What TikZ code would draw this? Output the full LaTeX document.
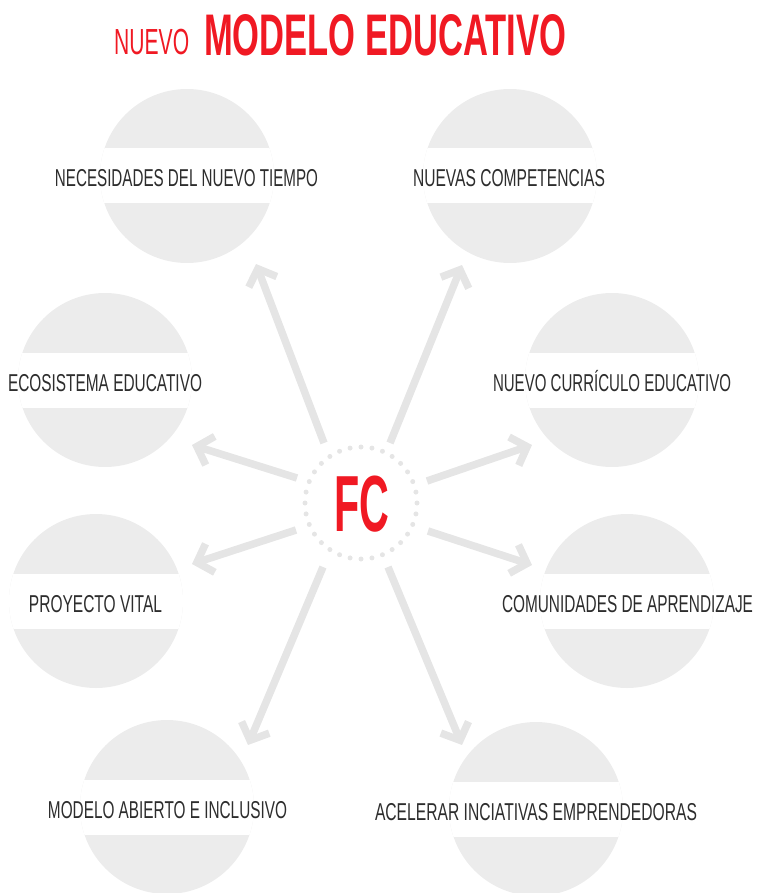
\documentclass[tikz,border=0pt]{standalone}
\usepackage{fontspec}
\setmainfont{Liberation Sans}
\usetikzlibrary{arrows.meta,calc}
\definecolor{fcred}{RGB}{240,25,35}
\definecolor{discgray}{RGB}{236,236,236}
\definecolor{arrowgray}{RGB}{229,229,229}
\definecolor{labelgray}{RGB}{45,45,45}
\newcommand{\lbltext}[2]{\resizebox{#1pt}{\height}{\fontsize{24.4}{28}\selectfont #2}}
\begin{document}
\begin{tikzpicture}[x=1pt,y=-1pt,
  disc/.style={circle,fill=discgray,minimum size=174pt,inner sep=0pt,
    path picture={\fill[white] ([xshift=-6pt,yshift=27.5pt]path picture bounding box.west) rectangle ([xshift=6pt,yshift=-27.5pt]path picture bounding box.east);}},
  lbl/.style={inner sep=0pt,anchor=base,text=labelgray},
  ray/.style={draw=arrowgray,line width=7.5pt,-{Straight Barb[length=14pt,width=30pt]}},
  dotc/.style={fill=arrowgray}]
\useasboundingbox (0,0) rectangle (756,893);
% title
\node[inner sep=0pt,anchor=base west,text=fcred] (t0) at (114,55) {\resizebox{75pt}{\height}{\fontsize{36.3}{40}\selectfont NUEVO}};
\node[inner sep=0pt,anchor=base west,text=fcred] (t00) at (204,56) {\resizebox{362pt}{\height}{\fontsize{58.7}{62}\selectfont\bfseries MODELO EDUCATIVO}};
% discs
\node[disc] (n1) at (187,176) {};
\node[disc] (n2) at (510,176) {};
\node[disc] (n3) at (105,380) {};
\node[disc] (n4) at (612,380) {};
\node[disc] (n5) at (96,601) {};
\node[disc] (n6) at (627,601) {};
\node[disc] (n7) at (167,807) {};
\node[disc] (n8) at (536,809) {};
% arrow end points
\coordinate (a1s) at (324,443); \coordinate (a1e) at (256,264);
\coordinate (a2s) at (390,443); \coordinate (a2e) at (462,265);
\coordinate (a3s) at (297,478); \coordinate (a3e) at (192,445);
\coordinate (a4s) at (427,481); \coordinate (a4e) at (532,445);
\coordinate (a5s) at (296,530); \coordinate (a5e) at (192,564);
\coordinate (a6s) at (428,531); \coordinate (a6e) at (532,565);
\coordinate (a7s) at (323,567); \coordinate (a7e) at (248,745);
\coordinate (a8s) at (388,567); \coordinate (a8e) at (462,745);
\foreach \i in {1,...,8} {\draw[ray] (a\i s) -- (a\i e);}
% labels
\node[lbl] (l1) at (186.5,187) {\lbltext{263}{NECESIDADES DEL NUEVO TIEMPO}};
\node[lbl] (l2) at (509,187) {\lbltext{192}{NUEVAS COMPETENCIAS}};
\node[lbl] (l3) at (105,391) {\lbltext{194}{ECOSISTEMA EDUCATIVO}};
\node[lbl] (l4) at (612,391) {\lbltext{238}{NUEVO CURRÍCULO EDUCATIVO}};
\node[lbl] (l5) at (95.5,612) {\lbltext{133}{PROYECTO VITAL}};
\node[lbl] (l6) at (627.5,612) {\lbltext{251}{COMUNIDADES DE APRENDIZAJE}};
\node[lbl] (l7) at (167.5,818) {\lbltext{239}{MODELO ABIERTO E INCLUSIVO}};
\node[lbl] (l8) at (536,820) {\lbltext{322}{ACELERAR INCIATIVAS EMPRENDEDORAS}};
% centre
\coordinate (fc) at (361,503);
\foreach \a in {0,11.25,...,349} {\fill[dotc] ($(fc)+(\a:56)$) circle (2.5pt);}
\node[inner sep=0pt,anchor=base,text=fcred] (fct) at (362,531) {\resizebox{55pt}{\height}{\fontsize{79.6}{84}\selectfont\bfseries FC}};
\end{tikzpicture}
\end{document}
